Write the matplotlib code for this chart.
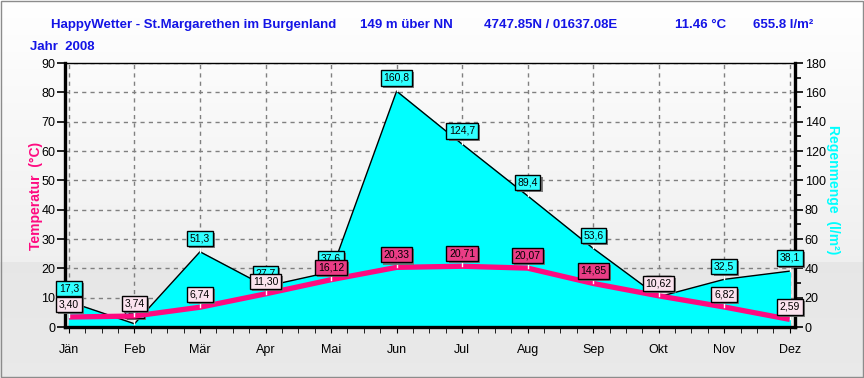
import numpy as np
import matplotlib
matplotlib.use("Agg")
import matplotlib.pyplot as plt
from matplotlib.ticker import MultipleLocator
import matplotlib.patheffects as pe

# Data --------------------------------------------------------------
months = ['Jän', 'Feb', 'Mär', 'Apr', 'Mai', 'Jun', 'Jul', 'Aug', 'Sep', 'Okt', 'Nov', 'Dez']
temperature = [3.40, 3.74, 6.74, 11.30, 16.12, 20.33, 20.71, 20.07, 14.85, 10.62, 6.82, 2.59]
rain = [17.3, 2.2, 51.3, 27.7, 37.6, 160.8, 124.7, 89.4, 53.6, 20.6, 32.5, 38.1]

title_parts = ['HappyWetter - St.Margarethen im Burgenland', '149 m über NN',
               '4747.85N / 01637.08E', '11.46 °C', '655.8 l/m²']
title_x = [194, 406, 551, 701, 783]

plt.rcParams['font.family'] = ['Liberation Sans', 'DejaVu Sans']

W, H = 864, 378
fig = plt.figure(figsize=(W / 100, H / 100), dpi=100)

# background gradient -----------------------------------------------
bg = fig.add_axes([0, 0, 1, 1], zorder=-10)
split = 262
top = np.linspace(1.0, 0.94, split)
bottom = np.linspace(0.905, 0.915, H - split)
col = np.concatenate([top, bottom])[:, None, None] * np.ones((H, W, 3))
bg.imshow(col, aspect='auto', extent=[0, W, H, 0])
bg.add_patch(plt.Rectangle((0.5, 0.5), W - 1.5, H - 1.5, fill=False, ec='#8c8c8c', lw=1))
bg.set_xlim(0, W)
bg.set_ylim(H, 0)
bg.axis('off')

# axes --------------------------------------------------------------
L, R, T, B = 65, 795, 63, 327
ax = fig.add_axes([L / W, 1 - B / H, (R - L) / W, (B - T) / H])
ax.patch.set_alpha(0)
axt = ax.twinx()
axt.patch.set_alpha(0)
x = np.arange(len(months))

# rain area (right axis)
ax.fill_between(x, 0, rain, color='#00ffff', zorder=2)
ax.plot(x, rain, color='black', lw=1, zorder=3)
ax.set_ylim(0, 180)
ax.set_xlim(-0.06, 11.08)
ax.yaxis.tick_right()
ax.yaxis.set_major_locator(MultipleLocator(20))
ax.yaxis.set_minor_locator(MultipleLocator(10))
ax.set_xticks(x)
ax.set_xticklabels(months)
ax.xaxis.set_minor_locator(MultipleLocator(0.25))
ax.grid(True, which='major', color='#808080', ls=(0, (3, 3)), lw=1)
ax.set_axisbelow(True)
ax.tick_params(axis='both', which='both', direction='out', labelsize=9, color='black')
ax.tick_params(axis='y', which='major', length=6, width=1.2, pad=1)
ax.tick_params(axis='y', which='minor', length=4, width=1.2)
ax.tick_params(axis='x', which='major', length=4, pad=8)
ax.tick_params(axis='x', which='minor', length=4)
for s in ['left', 'right', 'bottom']:
    ax.spines[s].set_linewidth(2.4)
ax.spines['top'].set_linewidth(1)

# temperature (left axis)
axt.yaxis.tick_left()
axt.set_ylim(0, 90)
axt.yaxis.set_major_locator(MultipleLocator(10))
axt.tick_params(axis='y', direction='out', length=6, width=1.2, labelsize=9, pad=1)
for s in axt.spines.values():
    s.set_visible(False)
axt.plot(x, temperature, color='#ff0a80', lw=3.8, solid_capstyle='butt', zorder=4)

shadow = [pe.withSimplePatchShadow(offset=(1.5, -1.5), shadow_rgbFace='#707070', alpha=0.9)]

for xi, r in zip(x, rain):
    ax.plot([xi, xi], [r, r + 5], color='white', lw=1, zorder=4, clip_on=False)
    ax.annotate(f'{r:.1f}'.replace('.', ','), (xi, r), xytext=(0, 9.5),
                textcoords='offset points', ha='center', va='center', fontsize=7.5,
                bbox=dict(boxstyle='square,pad=0.25', fc='#30ffff', ec='black', lw=1,
                          path_effects=shadow),
                zorder=5, annotation_clip=False)

for xi, t in zip(x, temperature):
    axt.plot([xi, xi], [t, t + 2.5], color='white', lw=1, zorder=5, clip_on=False)
    fc = '#ea3d86' if t > 14 else '#fbe2ee'
    axt.annotate(f'{t:.2f}'.replace('.', ','), (xi, t), xytext=(0, 9),
                 textcoords='offset points', ha='center', va='center', fontsize=7.5,
                 bbox=dict(boxstyle='square,pad=0.25', fc=fc, ec='black', lw=1,
                           path_effects=shadow),
                 zorder=6, annotation_clip=False)

# axis titles
fig.text(36 / W, 1 - 196 / H, 'Temperatur  (°C)', rotation=90, color='#ff0a80',
         fontsize=10, fontweight='bold', ha='center', va='center')
fig.text(833 / W, 1 - 190 / H, 'Regenmenge  (l/m²)', rotation=-90, color='#00ffff',
         fontsize=10, fontweight='bold', ha='center', va='center')

# header
for tx, txt in zip(title_x, title_parts):
    fig.text(tx / W, 1 - 25 / H, txt, color='#1414e6', fontsize=9.5, fontweight='bold',
             ha='center', va='center')
fig.text(30 / W, 1 - 47 / H, 'Jahr  2008', color='#1414e6', fontsize=9.5, fontweight='bold',
         ha='left', va='center')

fig.savefig('out.png', dpi=100)
